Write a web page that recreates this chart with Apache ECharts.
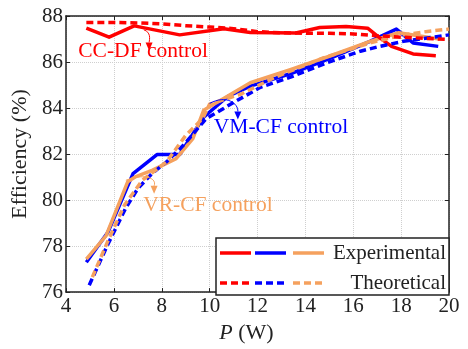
<!DOCTYPE html>
<html><head><meta charset="utf-8">
<script src="https://cdn.jsdelivr.net/npm/echarts@6/dist/echarts.min.js"></script>
<style>html,body{margin:0;padding:0;background:#fff}#c{width:468px;height:349px}</style>
</head><body><div id="c"></div>
<script>
// ---- data ----
const ccdfExpP = [4.85, 5.8, 6.85, 8.75, 10.6, 11.7, 13.6, 14.6, 15.7, 16.6, 17.0, 17.6, 18.5, 19.45];
const ccdfExpE = [87.47, 87.08, 87.57, 87.18, 87.45, 87.28, 87.26, 87.5, 87.54, 87.47, 87.14, 86.68, 86.35, 86.27];
const ccdfThP = [4.85, 6, 7, 8, 9, 10, 11, 12, 13, 14, 15, 16, 17, 18, 19, 20];
const ccdfThE = [87.72, 87.72, 87.7, 87.66, 87.58, 87.52, 87.45, 87.32, 87.27, 87.25, 87.25, 87.22, 87.14, 87.08, 87.03, 86.98];
const vmcfExpP = [4.85, 5.75, 6.8, 7.8, 8.75, 9.75, 10.75, 11.7, 13.4, 15.0, 16.7, 17.8, 18.5, 19.55];
const vmcfExpE = [77.3, 78.6, 81.15, 81.98, 81.98, 83.6, 84.5, 84.95, 85.5, 86.15, 86.9, 87.43, 86.83, 86.68];
const vmcfThP = [4.97, 5.75, 6.5, 7.0, 7.6, 8.2, 8.9, 9.85, 11.0, 12.1, 13.5, 14.9, 16.3, 17.1, 18.1, 19.1, 20];
const vmcfThE = [76.3, 78.08, 79.66, 80.5, 81.16, 81.66, 82.38, 83.53, 84.24, 84.89, 85.39, 85.97, 86.47, 86.68, 86.9, 87.04, 87.18];
const vrcfExpP = [4.85, 5.67, 6.58, 6.92, 7.62, 8.6, 9.3, 9.75, 11.7, 13.4, 15.0, 16.7, 17.9, 19.6];
const vrcfExpE = [77.43, 78.44, 80.8, 81.02, 81.3, 81.8, 82.67, 83.9, 85.1, 85.68, 86.25, 86.9, 87.27, 87.0];
const vrcfThP = [5.1, 5.75, 6.45, 7.2, 8.2, 9.0, 9.7, 10.0, 11.3, 12.7, 14.75, 16.7, 18.1, 19.1, 20];
const vrcfThE = [76.65, 78.22, 79.8, 80.87, 81.66, 82.81, 83.53, 84.17, 84.6, 85.32, 86.18, 86.83, 87.18, 87.33, 87.43];
const xTicks = [4, 6, 8, 10, 12, 14, 16, 18, 20];
const yTicks = [76, 78, 80, 82, 84, 86, 88];
const legendNames = ['Experimental', 'Theoretical'];
const annotations = [
  {text: 'CC-DF control', P: 7.22, E: 86.45, color: '#FF0000'},
  {text: 'VM-CF control', P: 12.98, E: 83.18, color: '#0000FF'},
  {text: 'VR-CF control', P: 9.93, E: 79.78, color: '#F5A15E'}
];

const RED = '#FF0000', BLUE = '#0000FF', ORANGE = '#F5A15E';
const FONT = "'Liberation Serif', 'Times New Roman', serif";
const zip = (a, b) => a.map((v, i) => [v, b[i]]);
const DASH = [7, 4];

function line(name, P, E, color, dashed) {
  return {
    name, type: 'line', data: zip(P, E), showSymbol: false, symbol: 'none',
    lineStyle: {color, width: 3.5, type: dashed ? DASH : 'solid', cap: 'butt', join: 'round'},
    z: dashed ? 3 : 2, animation: false
  };
}

const chart = echarts.init(document.getElementById('c'), null, {renderer: 'canvas'});
const axisCommon = {
  interval: 2,
  axisLine: {show: true, lineStyle: {color: '#222', width: 1.5}},
  axisTick: {show: true, inside: true, length: 4, lineStyle: {color: '#222', width: 1}},
  splitLine: {show: false}
};
const txt = {fontFamily: FONT, fontSize: 21, color: '#222'};
const ttl = {fontFamily: FONT, fontSize: 22, color: '#222'};
chart.setOption({
  animation: false,
  textStyle: {fontFamily: FONT},
  grid: {left: 66, right: 19, top: 16, bottom: 54, containLabel: false},
  xAxis: [
    Object.assign({}, axisCommon, {
      type: 'value', min: xTicks[0], max: xTicks[xTicks.length - 1], position: 'bottom',
      axisLabel: Object.assign({margin: 4}, txt),
      splitLine: {show: true, lineStyle: {color: '#cfcfcf', type: 'dotted', width: 1}},
      name: '{i|P} (W)', nameLocation: 'middle', nameGap: 26,
      nameTextStyle: Object.assign({padding: [0, 22, 0, 0],
        rich: {i: {fontFamily: FONT, fontSize: 22, fontStyle: 'italic', color: '#222'}}}, ttl)
    }),
    Object.assign({}, axisCommon, {
      type: 'value', min: xTicks[0], max: xTicks[xTicks.length - 1], position: 'top',
      axisLabel: {show: false}
    })
  ],
  yAxis: [
    Object.assign({}, axisCommon, {
      type: 'value', min: yTicks[0], max: yTicks[yTicks.length - 1], position: 'left',
      axisLabel: Object.assign({margin: 3}, txt),
      splitLine: {show: true, lineStyle: {color: '#cfcfcf', type: 'dotted', width: 1}},
      name: 'Efficiency (%)', nameLocation: 'middle', nameGap: 27, nameRotate: 90,
      nameTextStyle: Object.assign({}, ttl)
    }),
    Object.assign({}, axisCommon, {
      type: 'value', min: yTicks[0], max: yTicks[yTicks.length - 1], position: 'right',
      axisLabel: {show: false}
    })
  ],
  series: [
    line('VM-CF exp', vmcfExpP, vmcfExpE, BLUE, false),
    line('VM-CF th', vmcfThP, vmcfThE, BLUE, true),
    line('VR-CF exp', vrcfExpP, vrcfExpE, ORANGE, false),
    line('VR-CF th', vrcfThP, vrcfThE, ORANGE, true),
    line('CC-DF exp', ccdfExpP, ccdfExpE, RED, false),
    line('CC-DF th', ccdfThP, ccdfThE, RED, true)
  ]
});

function px(P, E) { return chart.convertToPixel({xAxisIndex: 0, yAxisIndex: 0}, [P, E]); }

const g = [];
annotations.forEach(a => {
  const p = px(a.P, a.E);
  g.push({type: 'text', x: p[0], y: p[1], z: 10,
    style: {text: a.text, fill: a.color, fontFamily: FONT, fontSize: 21.5, align: 'center', verticalAlign: 'middle'}});
});
function arrow(pts, color) {
  const [a, c1, c2, b] = pts.map(q => px(q[0], q[1]));
  g.push({type: 'bezierCurve', z: 10, shape: {x1: a[0], y1: a[1], cpx1: c1[0], cpy1: c1[1], cpx2: c2[0], cpy2: c2[1], x2: b[0], y2: b[1]},
    style: {stroke: color, lineWidth: 1, fill: null}});
  g.push({type: 'polygon', z: 10, shape: {points: [[b[0] - 3.5, b[1]], [b[0] + 3.5, b[1]], [b[0], b[1] + 8]]},
    style: {fill: color}});
}
arrow([[7.25, 87.4], [7.55, 87.3], [7.5, 87.0], [7.47, 86.85]], RED);
arrow([[10.0, 84.2], [10.7, 84.6], [11.2, 84.2], [11.18, 83.85]], BLUE);
arrow([[6.5, 80.86], [7.4, 81.2], [7.8, 80.9], [7.68, 80.62]], ORANGE);

// legend box
const lx = 216, ly = 238, lw = 233, lh = 57;
g.push({type: 'rect', z: 20, shape: {x: lx, y: ly, width: lw, height: lh}, style: {fill: '#fff', stroke: '#222', lineWidth: 1.5}});
const cols = [[220, 251, RED], [255, 286, BLUE], [293, 324, ORANGE]];
[253, 283].forEach((yy, r) => {
  cols.forEach(cdef => {
    g.push({type: 'line', z: 21, shape: {x1: cdef[0], y1: yy, x2: cdef[1], y2: yy},
      style: {stroke: cdef[2], lineWidth: 3.5, lineDash: r ? DASH : null}});
  });
  g.push({type: 'text', z: 21, x: 446, y: yy,
    style: {text: legendNames[r], fill: '#222', fontFamily: FONT, fontSize: 21, align: 'right', verticalAlign: 'middle'}});
});
chart.setOption({graphic: g});
</script></body></html>
